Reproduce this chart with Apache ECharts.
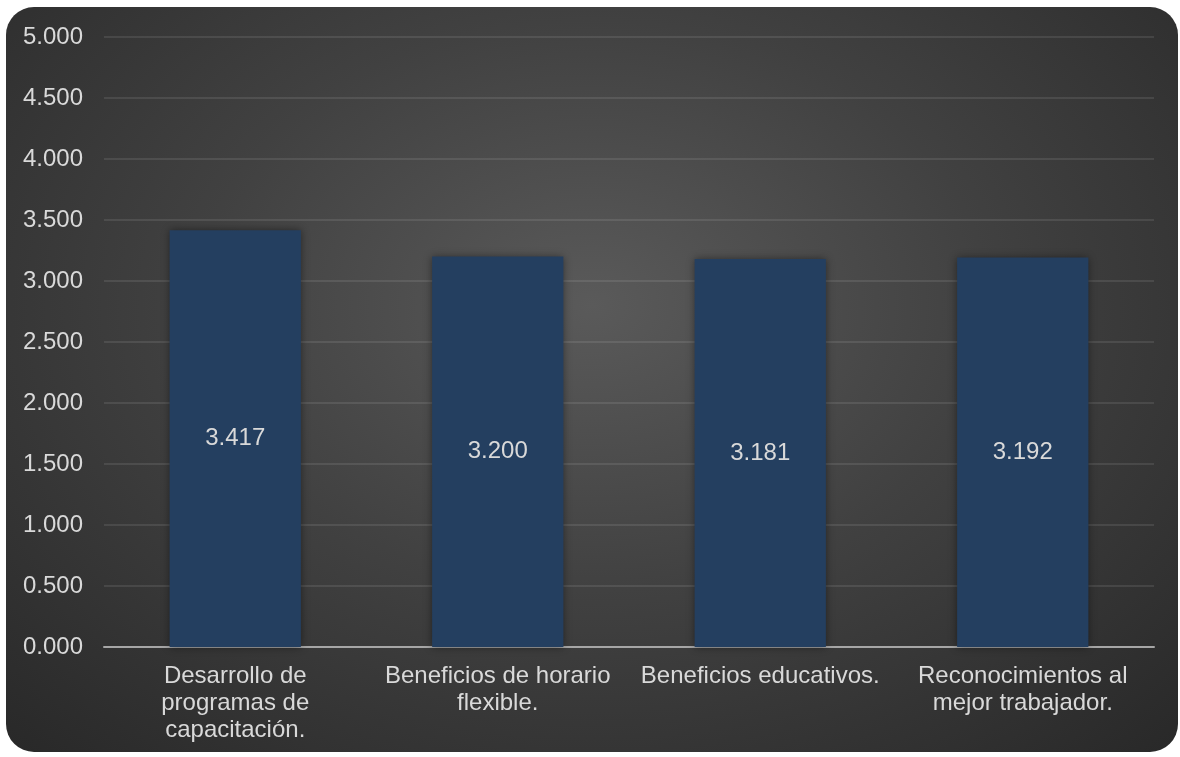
<!DOCTYPE html>
<html>
<head>
<meta charset="utf-8">
<script src="https://cdn.jsdelivr.net/npm/echarts@6/dist/echarts.min.js"></script>
<style>
  html, body { margin: 0; padding: 0; background: #ffffff; }
  #panel {
    position: absolute; left: 6px; top: 7px; width: 1172px; height: 745px;
    border-radius: 28px;
    background: radial-gradient(ellipse 75% 85% at 50% 40%, #5a5a5a 0%, #414141 45%, #272727 100%);
  }
  #chart { position: absolute; left: 0; top: 0; width: 1180px; height: 757px; }
</style>
</head>
<body>
<div id="panel"></div>
<div id="chart"></div>
<script>
// Categories and average scores
const categories = [
  'Desarrollo de\nprogramas de\ncapacitación.',
  'Beneficios de horario\nflexible.',
  'Beneficios educativos.',
  'Reconocimientos al\nmejor trabajador.'
];
const scores = [3.417, 3.200, 3.181, 3.192];

const yMin = 0;
const yMax = 5;
const yStep = 0.5;

const textColor = '#d9d9d9';
const fontFamily = '"Liberation Sans", Arial, sans-serif';

const chart = echarts.init(document.getElementById('chart'), null, { renderer: 'canvas' });
chart.setOption({
  backgroundColor: 'transparent',
  animation: false,
  grid: { left: 104, right: 26, top: 37, bottom: 110, containLabel: false },
  xAxis: {
    type: 'category',
    data: categories,
    axisLine: { show: true, lineStyle: { color: '#a6a6a6', width: 2 } },
    axisTick: { show: false },
    axisLabel: {
      color: textColor, fontSize: 24, fontFamily: fontFamily,
      lineHeight: 27, margin: 16, interval: 0
    }
  },
  yAxis: {
    type: 'value',
    min: yMin, max: yMax, interval: yStep,
    axisLine: { show: false },
    axisTick: { show: false },
    splitLine: { lineStyle: { color: 'rgba(255,255,255,0.13)', width: 1.5 } },
    axisLabel: {
      color: textColor, fontSize: 24, fontFamily: fontFamily, margin: 21,
      formatter: v => v.toFixed(3)
    }
  },
  series: [{
    type: 'bar',
    data: scores,
    barWidth: '50%',
    itemStyle: {
      color: '#243f60',
      shadowColor: 'rgba(0,0,0,0.45)',
      shadowBlur: 8
    },
    label: {
      show: true, position: 'inside',
      color: textColor, fontSize: 24, fontFamily: fontFamily,
      formatter: p => p.value.toFixed(3)
    }
  }]
});
</script>
</body>
</html>
